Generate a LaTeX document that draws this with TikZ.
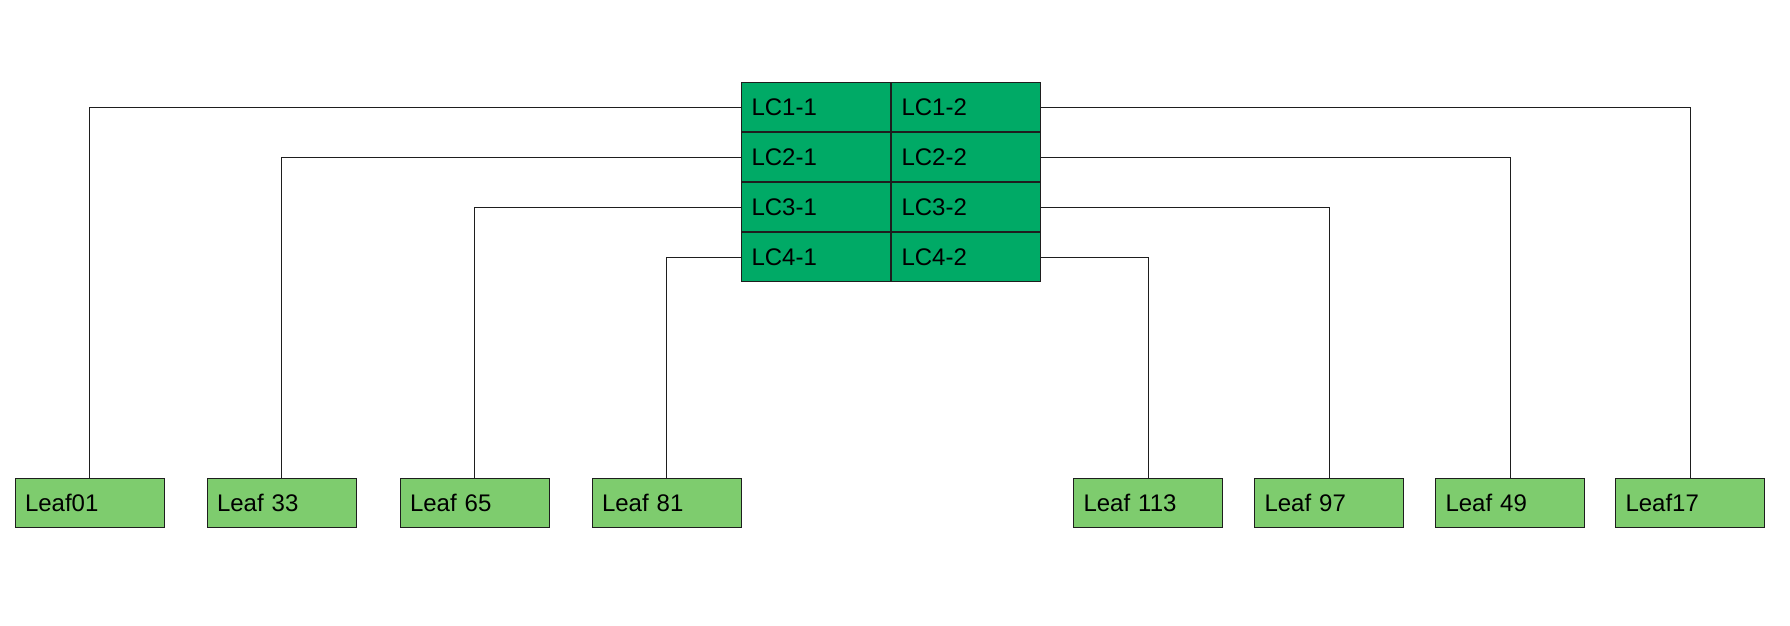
\documentclass[tikz,border=0pt]{standalone}
\usepackage{fontspec}
\setmainfont{Liberation Sans}
\definecolor{lcgreen}{RGB}{0,170,102}
\definecolor{leafgreen}{RGB}{126,204,110}
\definecolor{edge}{RGB}{30,30,30}
\begin{document}
\begin{tikzpicture}[x=1pt,y=-1pt,
  cell/.style={draw=edge,line width=1pt,fill=lcgreen,minimum width=149pt,minimum height=49pt,
    inner xsep=10pt,inner ysep=0pt,text width=129pt,align=left,font=\fontsize{24}{26}\selectfont},
  leaf/.style={cell,fill=leafgreen},
  link/.style={draw=edge,line width=1pt}]
\useasboundingbox (0,0) rectangle (1790,626);
\fill[white] (0,0) rectangle (1790,626);
% central card
\node[cell] (lc11) at (816,107) {LC1-1};
\node[cell] (lc12) at (966,107) {LC1-2};
\node[cell] (lc21) at (816,157) {LC2-1};
\node[cell] (lc22) at (966,157) {LC2-2};
\node[cell] (lc31) at (816,207) {LC3-1};
\node[cell] (lc32) at (966,207) {LC3-2};
\node[cell] (lc41) at (816,257) {LC4-1};
\node[cell] (lc42) at (966,257) {LC4-2};
% leaves
\node[leaf] (l01) at (89.5,503) {Leaf01};
\node[leaf] (l33) at (281.5,503) {Leaf 33};
\node[leaf] (l65) at (474.5,503) {Leaf 65};
\node[leaf] (l81) at (666.5,503) {Leaf 81};
\node[leaf] (l113) at (1148,503) {Leaf 113};
\node[leaf] (l97) at (1329,503) {Leaf 97};
\node[leaf] (l49) at (1510,503) {Leaf 49};
\node[leaf] (l17) at (1690,503) {Leaf17};
% links
\draw[link] (lc11.west) -| (l01.north);
\draw[link] (lc21.west) -| (l33.north);
\draw[link] (lc31.west) -| (l65.north);
\draw[link] (lc41.west) -| (l81.north);
\draw[link] (lc12.east) -| (l17.north);
\draw[link] (lc22.east) -| (l49.north);
\draw[link] (lc32.east) -| (l97.north);
\draw[link] (lc42.east) -| (l113.north);
\end{tikzpicture}
\end{document}
